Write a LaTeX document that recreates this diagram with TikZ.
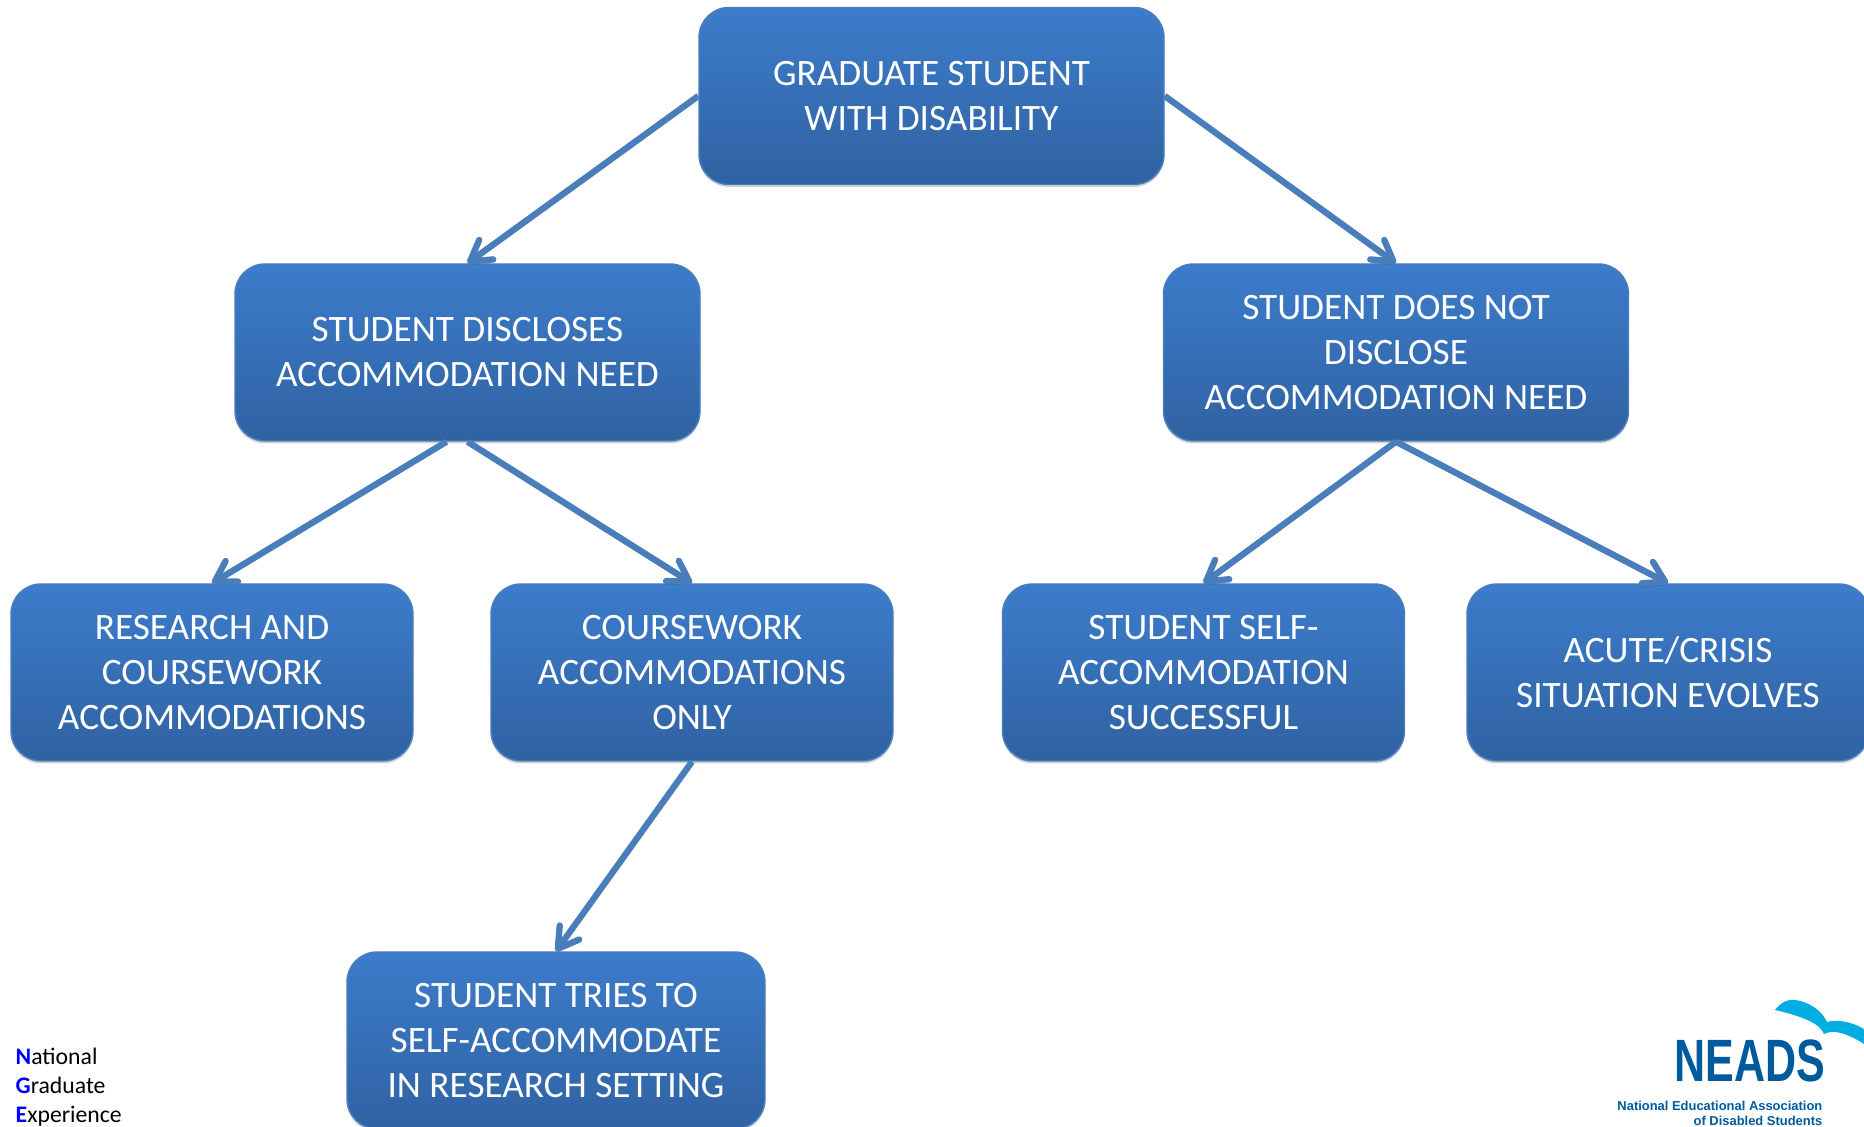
\documentclass[tikz,border=0pt]{standalone}
\usepackage{fontspec}
\setmainfont{Carlito}
\newfontfamily\logofont{Liberation Sans}
\usetikzlibrary{arrows.meta,positioning,shadows,calc}
\definecolor{boxtop}{HTML}{3C7CCB}
\definecolor{boxbot}{HTML}{3062A2}
\definecolor{boxedge}{HTML}{4A7EBB}
\definecolor{logoblue}{HTML}{005A9C}
\definecolor{logosky}{HTML}{00AEE3}
\tikzset{
  flowbox/.style={rectangle,rounded corners=3mm,draw=boxedge,line width=.4pt,top color=boxtop,bottom color=boxbot,
    text=white,align=center,font=\fontsize{10.6}{12.8}\selectfont,minimum height=1.77cm,inner sep=0pt,
    execute at begin node={\rule{0pt}{3.5mm}},
    drop shadow={shadow xshift=0mm,shadow yshift=-.25mm,opacity=.18,fill=black}},
  widebox/.style={flowbox,minimum width=4.65cm},
  narrowbox/.style={flowbox,minimum width=4.02cm},
  link/.style={draw=boxedge,line width=1.8pt,-{Straight Barb[length=2mm,width=2.4mm,round]},
    preaction={draw=black,draw opacity=.12,transform canvas={yshift=-.3mm}}}
}

\begin{document}
\begin{tikzpicture}[node distance=3cm,on grid]
   \useasboundingbox (0,0) rectangle (18.64,11.27);
   \node [widebox] (root) at (9.315,10.31) {GRADUATE STUDENT\\WITH DISABILITY};
   \node [widebox] (disc) [below left=2.565cm and 4.64cm of root] {STUDENT DISCLOSES\\ACCOMMODATION NEED};
   \node [widebox] (nodisc) [below right=2.565cm and 4.645cm of root] {STUDENT DOES NOT\\DISCLOSE\\ACCOMMODATION NEED};
   \node [narrowbox] (rescw) [below left=3.2cm and 2.555cm of disc] {RESEARCH AND\\COURSEWORK\\ACCOMMODATIONS};
   \node [narrowbox] (cwonly) [below right=3.2cm and 2.245cm of disc] {COURSEWORK\\ACCOMMODATIONS\\ONLY};
   \node [narrowbox] (selfacc) [below left=3.2cm and 1.925cm of nodisc] {STUDENT SELF-\\ACCOMMODATION\\SUCCESSFUL};
   \node [narrowbox] (crisis) [below right=3.2cm and 2.72cm of nodisc] {ACUTE/CRISIS\\SITUATION EVOLVES};
   \node [flowbox,minimum width=4.18cm] (tryself) [below left=3.68cm and 1.36cm of cwonly] {STUDENT TRIES TO\\SELF-ACCOMMODATE\\IN RESEARCH SETTING};
   \path
    (root.west) edge [link] (disc.north)
    (root.east) edge [link] (nodisc.north)
    ([xshift=-2.1mm]disc.south) edge [link] (rescw.north)
    (disc.south) edge [link] (cwonly.north)
    (nodisc.south) edge [link] (selfacc.north)
    (nodisc.south) edge [link] (crisis.north)
    (cwonly.south) edge [link] (tryself.north);
   % lower left
   \node [anchor=south west,inner sep=0pt,align=left,font=\fontsize{6.75}{8.2}\selectfont] (nge) at (.15,0)
     {\textcolor{blue}{\textbf{N}}ational\\\textcolor{blue}{\textbf{G}}raduate\\\textcolor{blue}{\textbf{E}}xperience};
   % logo
   \fill [logosky] (17.75,1.17) .. controls (17.81,1.25) and (17.88,1.28) .. (17.95,1.27)
     .. controls (18.1,1.25) and (18.22,1.16) .. (18.27,1.05)
     .. controls (18.38,1.08) and (18.52,1.05) .. (18.64,.98)
     -- (18.64,.83) .. controls (18.5,.92) and (18.38,.96) .. (18.3,.95)
     -- (18.24,.93) .. controls (18.2,1.03) and (18.05,1.1) .. (17.75,1.17);
   \node [anchor=center,inner sep=0pt,text=logoblue,font=\logofont\bfseries\fontsize{17}{17}\selectfont] (neads) at (17.5,.665)
     {\scalebox{.72}[1]{NEADS}};
   \node [anchor=north east,inner sep=0pt,align=right,text=logoblue,font=\logofont\bfseries\fontsize{3.68}{4.4}\selectfont] (assoc) at (18.23,.27)
     {National Educational Association\\of Disabled Students};
\end{tikzpicture}
\end{document}
